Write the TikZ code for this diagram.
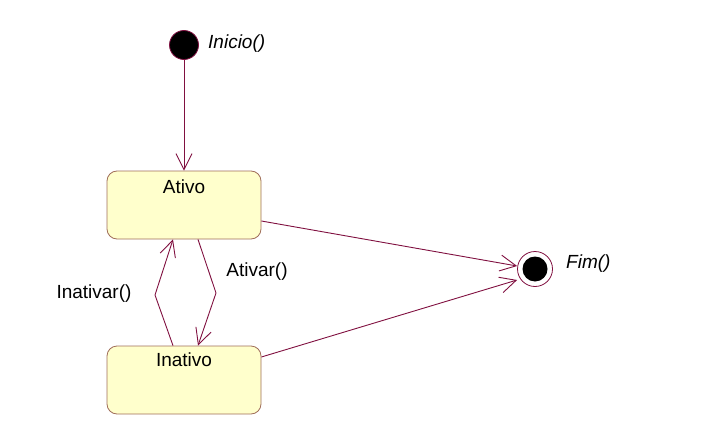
\documentclass[tikz,border=0pt]{standalone}
\usepackage{fontspec}
\setmainfont{Liberation Sans}
\usetikzlibrary{arrows.meta}
\definecolor{lineC}{RGB}{128,16,64}
\definecolor{boxB}{RGB}{160,110,90}
\definecolor{boxF}{RGB}{255,255,204}
\tikzset{
  statebox/.style={draw=boxB, fill=boxF, rounded corners=10pt, minimum width=154pt, minimum height=68pt, inner sep=0pt, line width=0.8pt},
  trans/.style={draw=lineC, line width=0.9pt, -{Straight Barb[length=16pt,width=16pt,line width=0.9pt]}},
  lbl/.style={font=\fontsize{19}{21}\selectfont, inner sep=0pt},
  ilbl/.style={font=\fontsize{19}{21}\selectfont\itshape, inner sep=0pt, anchor=west},
}
\begin{document}
\begin{tikzpicture}[x=1pt,y=-1pt]
\useasboundingbox (0,0) rectangle (704,436);
% initial
\node (ini) [circle, draw=lineC, fill=black, minimum size=29pt, inner sep=0pt, line width=0.8pt] at (184,45) {};
\node (initxt) [ilbl] at (208,44) {Inicio()};
% states
\node (ativo) [statebox] at (184,205) {};
\node (ativotxt) [lbl] at (184,187) {Ativo};
\node (inativo) [statebox] at (184,380) {};
\node (inativotxt) [lbl] at (184,360) {Inativo};
% final
\node (fim) [circle, draw=lineC, fill=white, minimum size=35pt, inner sep=0pt, line width=0.8pt] at (535,269) {};
\node (fimin) [circle, fill=black, minimum size=25pt, inner sep=0pt] at (fim) {};
\node (fimtxt) [ilbl] at (566,264) {Fim()};
% transitions
\draw[trans] (ini.south) -- (ativo.north);
\draw[trans] (ativo.east |- 0,221) -- (fim.west |- 0,266);
\draw[trans] (inativo.east |- 0,357) -- (fim.west |- 0,280);
\coordinate (m1) at (155,295);
\coordinate (m2) at (216,293);
\draw[trans] (inativo.north -| 173,0) -- (m1) -- (ativo.south -| 173,0);
\draw[trans] (ativo.south -| 198,0) -- (m2) -- (inativo.north -| 198,0);
\node (lInativar) [lbl] at (94,294) {Inativar()};
\node (lAtivar) [lbl] at (257,272) {Ativar()};
\end{tikzpicture}
\end{document}
